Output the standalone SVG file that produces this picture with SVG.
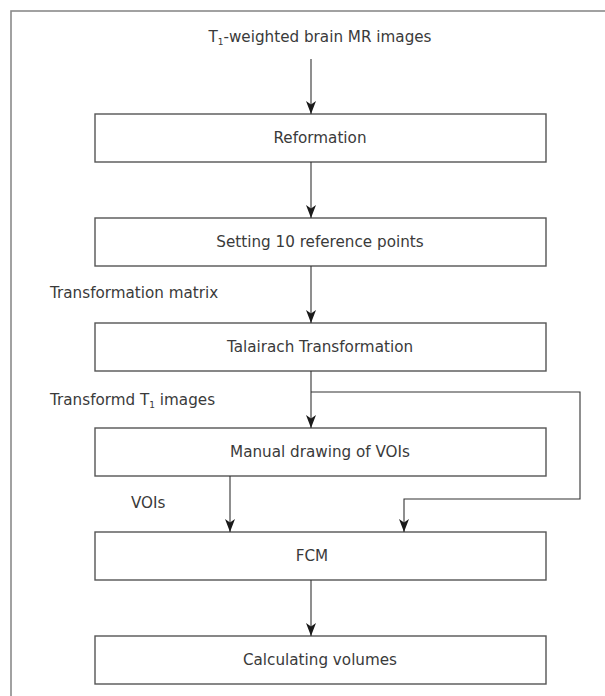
<svg xmlns="http://www.w3.org/2000/svg" width="605" height="696" viewBox="0 0 605 696">
<defs>
<marker id="arr" viewBox="0 -5.5 13 11" refX="13" refY="0" markerWidth="13" markerHeight="11" markerUnits="userSpaceOnUse" orient="auto">
<path d="M0,-5 L13,0 L0,5 L3.5,0 Z" fill="#1a1a1a"/>
</marker>
</defs>
<style>
.frame{fill:none;stroke:#8a8a8a;stroke-width:1.6}
.box{fill:#fff;stroke:#555;stroke-width:1.4}
.t{font-family:"DejaVu Sans","Liberation Sans",sans-serif;font-size:15.2px;fill:#3a3a3a}
.c{text-anchor:middle}
.sub{font-size:9px}
.con{fill:none;stroke:#333;stroke-width:1.1;marker-end:url(#arr)}
</style>
<rect class="frame" x="11" y="11" width="700" height="720"/>
<g id="labels">
<text class="t c" x="320" y="42">T<tspan class="sub" dy="3">1</tspan><tspan dy="-3">-weighted brain MR images</tspan></text>
<text class="t" x="50" y="298">Transformation matrix</text>
<text class="t" x="50" y="405">Transformd T<tspan class="sub" dy="3">1</tspan><tspan dy="-3"> images</tspan></text>
<text class="t" x="131" y="508">VOIs</text>
</g>
<g id="n-reformation">
<rect class="box" x="95" y="114" width="451" height="48"/>
<text class="t c" x="320" y="143">Reformation</text>
</g>
<g id="n-setting">
<rect class="box" x="95" y="218" width="451" height="48"/>
<text class="t c" x="320" y="247">Setting 10 reference points</text>
</g>
<g id="n-talairach">
<rect class="box" x="95" y="323" width="451" height="48"/>
<text class="t c" x="320" y="352">Talairach Transformation</text>
</g>
<g id="n-manual">
<rect class="box" x="95" y="428" width="451" height="48"/>
<text class="t c" x="320" y="457">Manual drawing of VOIs</text>
</g>
<g id="n-fcm">
<rect class="box" x="95" y="532" width="451" height="48"/>
<text class="t c" x="312" y="561">FCM</text>
</g>
<g id="n-calc">
<rect class="box" x="95" y="636" width="451" height="48"/>
<text class="t c" x="320" y="665">Calculating volumes</text>
</g>
<g id="connectors">
<path class="con" d="M311,59 V114"/>
<path class="con" d="M311,162 V218"/>
<path class="con" d="M311,266 V323"/>
<path class="con" d="M311,371 V428"/>
<path class="con" d="M311,392 H580 V499 H404 V532"/>
<path class="con" d="M230,476 V532"/>
<path class="con" d="M311,580 V636"/>
</g>
</svg>
